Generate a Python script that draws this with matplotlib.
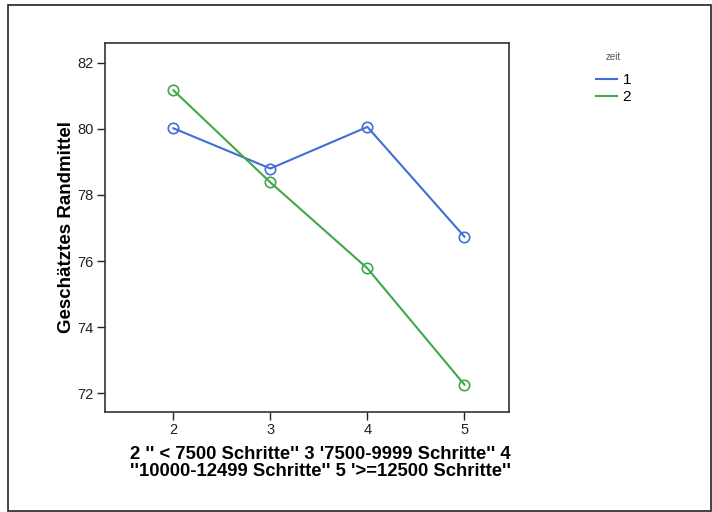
import matplotlib
matplotlib.use("Agg")
import matplotlib.pyplot as plt
from matplotlib.lines import Line2D
from matplotlib.patches import Rectangle

plt.rcParams['font.family'] = ['Liberation Sans', 'DejaVu Sans']

categories = [2, 3, 4, 5]
zeit1 = [80.02, 78.80, 80.06, 76.74]
zeit2 = [81.17, 78.38, 75.78, 72.26]
yticks = [72, 74, 76, 78, 80, 82]
blue = '#3f6fd6'
green = '#3ea84a'

fig = plt.figure(figsize=(7.12, 5.12), dpi=100)
fig.patches.append(Rectangle((8/712, 1/512), 703/712, 506/512, transform=fig.transFigure,
                             fill=False, edgecolor='#222222', linewidth=1.2))
ax = fig.add_axes([105/712, 1-411.7/512, 404/712, 368.7/512])
ax.plot(categories, zeit1, color=blue, lw=1.5, marker='o', ms=7.5, mfc='none', mec=blue, mew=1.2, label='1')
ax.plot(categories, zeit2, color=green, lw=1.5, marker='o', ms=7.5, mfc='none', mec=green, mew=1.2, label='2')
ax.set_xlim(1.295, 5.46)
ax.set_ylim(71.44, 82.6)
ax.set_xticks(categories)
ax.set_yticks(yticks)
ax.tick_params(labelsize=10.5, length=6, width=1, pad=2, colors='#222222')
for s in ax.spines.values():
    s.set_color('#333333')
    s.set_linewidth(1.2)
ax.set_ylabel('Geschätztes Randmittel', fontsize=13.5, fontweight='bold', labelpad=2)
fig.text(320/712, 1-463/512,
         "2 '' < 7500 Schritte'' 3 '7500-9999 Schritte'' 4\n''10000-12499 Schritte'' 5 '>=12500 Schritte''",
         ha='center', va='center', fontsize=13.3, fontweight='bold', linespacing=0.95)
handles = [Line2D([], [], color=blue, lw=1.5), Line2D([], [], color=green, lw=1.5)]
leg = fig.legend(handles, ['1', '2'], loc='upper left', bbox_to_anchor=(582/712, 1-38/512),
                 title='zeit', frameon=False, fontsize=11, handlelength=1.4,
                 handletextpad=0.35, labelspacing=0.2)
leg.get_title().set_fontsize(7)
leg.get_title().set_color('#555555')
leg._legend_box.sep = 8
fig.savefig('out.png', dpi=100)
